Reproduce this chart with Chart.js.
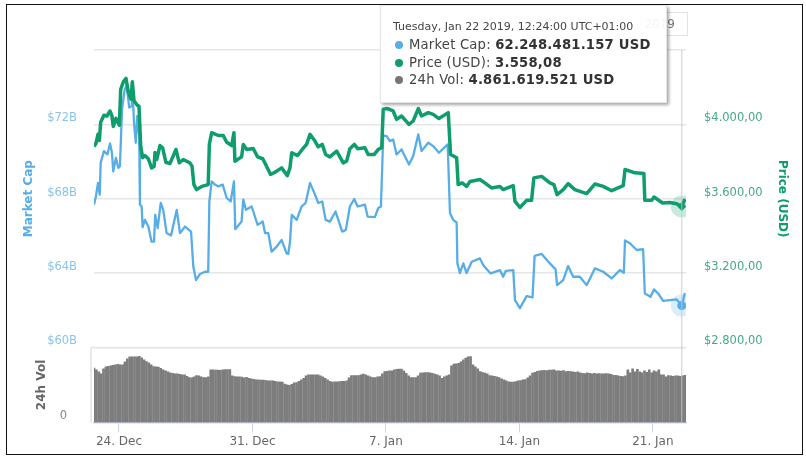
<!DOCTYPE html>
<html><head><meta charset="utf-8">
<style>
html,body{margin:0;padding:0;background:#fff;width:806px;height:459px;overflow:hidden}
body{position:relative;font-family:"DejaVu Sans",sans-serif}
#frame{position:absolute;left:6px;top:4px;width:795px;height:449px;border:1px solid #111;pointer-events:none;z-index:5}
canvas{position:absolute;left:0;top:0}
#range{position:absolute;left:640px;top:12px;width:34px;height:22px;padding-right:12px;border:1px solid #e2e2e2;z-index:1;color:#777;font-size:12px;line-height:22px;text-align:right;box-sizing:content-box}
#tip{position:absolute;left:380px;top:5px;width:285px;height:96px;background:rgba(255,255,255,.93);border:1px solid #e6e6e6;box-shadow:2px 2px 3px rgba(0,0,0,.35);z-index:6;color:#444}
#tip div{position:absolute;left:28px;white-space:nowrap;font-size:13.2px;letter-spacing:.2px}
#tip div b{color:#333}
#tip i{position:absolute;left:-14px;top:4px;width:8px;height:8px;border-radius:50%}
#tip .d{left:12px;top:14px;font-size:11px;letter-spacing:0;color:#444}
</style></head><body>
<canvas id="c" width="806" height="459"></canvas>
<div id="range">2019</div>
<div id="tip">
 <div class="d" id="tDate"></div>
 <div style="top:31px"><i style="background:#5aaee6"></i><span id="t1"></span></div>
 <div style="top:49px"><i style="background:#0f9d6b"></i><span id="t2"></span></div>
 <div style="top:66px"><i style="background:#777"></i><span id="t3"></span></div>
</div>
<div id="frame"></div>
<script src="https://cdn.jsdelivr.net/npm/chart.js@4"></script>
<script>
// days since 24 Dec 2018 00:00
const priceDays=[-1.31,-1.21,-1.10,-1.03,-0.96,-0.79,-0.63,-0.47,-0.37,-0.30,-0.16,0.02,0.09,0.23,0.37,0.49,0.63,0.70,0.79,0.96,1.05,1.14,1.24,1.36,1.54,1.71,1.84,1.89,1.98,2.15,2.29,2.46,2.67,2.99,3.16,3.37,3.72,3.83,3.93,4.07,4.34,4.68,4.74,4.86,5.21,5.47,5.65,5.91,6.03,6.08,6.43,6.52,6.70,7.04,7.27,7.54,7.74,7.95,8.18,8.53,8.83,8.97,9.06,9.37,9.61,9.84,10.02,10.28,10.45,10.66,10.84,11.06,11.42,11.76,11.94,12.11,12.34,12.52,12.90,13.07,13.39,13.60,13.78,13.86,14.09,14.38,14.56,14.82,15.21,15.43,15.70,15.87,16.22,16.48,16.78,17.27,17.39,17.71,17.79,18.00,18.23,18.41,18.93,19.19,19.54,19.98,20.15,20.68,20.77,21.03,21.38,21.64,21.76,22.17,22.60,22.81,22.98,23.30,23.56,23.91,24.53,24.96,25.40,25.84,26.45,26.54,27.06,27.53,27.58,27.94,28.06,28.51,28.89,29.25,29.52,29.68];
const priceUsd=[3881,3897,3946,3913,4011,4049,4045,4072,4045,3989,4032,3995,4189,4229,4247,4174,4135,4229,4126,4103,4097,3883,3820,3832,3815,3766,3773,3849,3811,3886,3874,3796,3789,3865,3793,3811,3793,3775,3676,3649,3666,3676,3892,3955,3940,3940,3904,3886,3955,3802,3825,3892,3865,3870,3825,3815,3775,3730,3742,3766,3724,3767,3847,3832,3865,3892,3946,3910,3879,3892,3838,3825,3856,3793,3802,3869,3892,3869,3874,3838,3838,3865,3874,4081,4085,4072,4027,4045,4000,4018,4085,4045,4063,4054,4031,4063,3838,3820,3676,3685,3666,3693,3703,3685,3658,3666,3649,3670,3585,3553,3591,3591,3712,3720,3685,3676,3622,3649,3681,3649,3627,3679,3666,3643,3670,3757,3739,3735,3591,3591,3609,3577,3580,3573,3558.08,3598];
const capDays=[-1.31,-1.21,-1.10,-1.01,-0.96,-0.79,-0.61,-0.47,-0.37,-0.30,-0.16,-0.04,0.05,0.16,0.30,0.40,0.54,0.67,0.72,0.79,0.88,0.96,1.06,1.10,1.19,1.24,1.36,1.54,1.71,1.84,1.90,2.03,2.19,2.32,2.50,2.73,3.03,3.20,3.46,3.78,3.90,4.04,4.25,4.51,4.68,4.74,4.86,5.03,5.21,5.44,5.65,5.86,6.03,6.10,6.43,6.52,6.66,6.96,7.27,7.54,7.66,7.83,8.01,8.27,8.53,8.79,8.88,8.97,9.06,9.32,9.58,9.79,10.02,10.28,10.45,10.66,10.84,11.06,11.36,11.71,11.90,12.11,12.34,12.52,12.90,13.04,13.42,13.60,13.74,13.86,14.04,14.21,14.38,14.56,14.82,15.21,15.43,15.70,15.87,16.22,16.48,16.78,17.24,17.36,17.53,17.71,17.75,17.88,18.06,18.23,18.50,18.93,19.10,19.49,19.98,20.15,20.29,20.68,20.77,21.03,21.38,21.69,21.80,22.17,22.60,22.90,22.98,23.30,23.56,23.82,24.17,24.53,24.96,25.40,25.84,26.27,26.48,26.54,26.80,27.15,27.49,27.58,27.88,28.06,28.28,28.54,29.25,29.52,29.68];
const marketCapB=[67.68,68.12,68.85,68.22,69.93,70.56,70.38,70.97,70.47,69.47,70.20,69.66,69.75,72.81,73.89,74.07,72.90,72.99,73.62,72.09,71.01,72.45,71.37,67.68,67.58,66.47,66.86,66.50,65.69,65.69,67.13,66.42,67.77,67.40,66.15,66.02,67.40,66.15,66.50,66.23,64.34,63.62,63.95,64.07,64.07,67.85,68.93,68.76,68.66,68.76,68.04,67.85,68.93,66.36,66.77,67.95,67.40,67.58,66.59,66.77,66.15,66.15,65.15,65.42,65.78,65.06,65.03,65.69,67.13,66.86,67.58,67.77,68.85,68.22,67.77,67.85,66.86,66.77,67.31,66.23,66.32,67.58,67.98,67.58,67.68,67.04,67.01,67.50,67.58,71.40,71.37,71.10,71.19,70.38,70.65,69.84,70.29,71.46,70.56,71.01,70.83,70.47,70.92,67.23,66.86,66.72,64.52,64.00,64.52,64.00,64.61,64.79,64.43,63.98,64.16,63.80,64.12,64.16,62.54,62.11,62.76,62.69,64.92,65.03,64.52,64.20,63.35,63.62,64.38,63.80,63.80,63.35,64.25,64.07,63.71,64.16,64.02,65.75,65.60,65.24,65.28,62.90,62.72,63.12,62.90,62.50,62.58,62.248,62.93];
// 24h volume in billions USD, one bar every three hours
const volStartDay=-1.31, volStepDays=0.125;
const volumeB=[5.65,5.47,5.26,5.05,5.57,5.78,5.83,5.89,5.94,5.99,
6.04,5.99,5.99,6.30,6.61,6.82,6.82,6.82,6.82,6.88,
6.72,6.51,6.33,6.20,5.99,5.81,5.78,5.75,5.63,5.47,
5.36,5.26,5.16,5.10,5.05,5.05,5.00,4.95,4.95,4.79,
4.67,4.64,4.74,4.88,4.84,4.74,4.67,4.67,4.74,5.47,
5.47,5.44,5.44,5.42,5.47,5.50,5.50,5.50,4.84,4.77,
4.74,4.74,4.71,4.64,4.69,4.58,4.53,4.48,4.43,4.43,
4.40,4.40,4.38,4.32,4.32,4.32,4.27,4.22,4.22,4.19,
3.98,3.91,3.85,3.96,4.11,4.15,4.27,4.43,4.58,4.84,
4.95,4.95,4.95,4.95,4.95,4.84,4.74,4.60,4.43,4.27,
4.19,4.22,4.22,4.25,4.27,4.27,4.32,4.64,4.88,4.88,
4.88,4.88,4.95,5.02,4.95,4.84,4.74,4.67,4.67,4.74,
4.77,5.05,5.29,5.31,5.36,5.36,5.47,5.52,5.54,5.54,
5.36,5.10,4.84,4.67,4.67,4.67,4.84,5.12,5.16,5.19,
5.19,5.16,5.10,5.02,4.95,4.84,4.60,4.74,4.84,4.95,
5.89,6.06,6.09,6.15,6.30,6.51,6.69,6.82,6.85,5.99,
5.78,5.57,5.29,5.21,5.12,5.05,4.88,4.84,4.79,4.74,
4.67,4.53,4.43,4.32,4.22,4.19,4.19,4.25,4.32,4.35,
4.43,4.46,4.64,4.84,5.12,5.21,5.31,5.36,5.40,5.42,
5.40,5.44,5.44,5.47,5.36,5.36,5.33,5.40,5.29,5.31,
5.29,5.26,5.21,5.26,5.16,5.10,5.08,5.16,5.10,5.05,
5.10,5.05,5.08,5.05,5.05,5.08,5.05,5.00,4.90,4.90,
4.84,4.79,4.77,4.84,5.47,5.16,5.57,5.26,5.52,5.26,
5.16,5.36,5.21,5.47,5.16,5.36,5.26,5.47,4.95,4.95,
4.74,4.88,4.84,4.79,4.84,4.84,4.79,4.86,4.90];
const hoverDay=29.52, hoverCap=62.248, hoverPrice=3558.08;
const weekTickDays=[0,7,14,21,28];
const weekTickLabels=["24. Dec","31. Dec","7. Jan","14. Jan","21. Jan"];
const tooltipDate="Tuesday, Jan 22 2019, 12:24:00 UTC+01:00";
const tooltipCap="62.248.481.157 USD", tooltipPrice="3.558,08", tooltipVol="4.861.619.521 USD";

const BLUE="#57ade6", GREEN="#0f9d6b";
const FONT="'DejaVu Sans',sans-serif";
const zip=(xs,ys)=>xs.map((x,i)=>({x,y:ys[i]}));
function priceLabel(v){return "$"+v.toLocaleString("de-DE",{minimumFractionDigits:2,maximumFractionDigits:2});}

const decor={id:"decor",
 beforeDatasetsDraw(ch){
  const a=ch.chartArea,g=ch.ctx,vy=ch.scales.yVol;
  g.save();g.strokeStyle="#e2e2e6";g.lineWidth=1.5;
  g.beginPath();g.moveTo(a.left-3,vy.top);g.lineTo(a.left-3,vy.bottom);g.stroke();
  g.strokeStyle="#e6e6e6";g.beginPath();g.moveTo(a.left-3,vy.top);g.lineTo(a.right,vy.top);g.stroke();g.restore();
 },
 afterDatasetsDraw(ch){
  const g=ch.ctx,a=ch.chartArea,px=ch.scales.x.getPixelForValue(hoverDay);
  g.save();g.strokeStyle="rgba(190,196,208,.85)";g.lineWidth=1;
  g.beginPath();g.moveTo(px,a.top);g.lineTo(px,a.bottom);g.stroke();g.restore();
 }};

new Chart(document.getElementById("c"),{
 data:{datasets:[
  {type:"bar",label:"24h Vol",xAxisID:"x",yAxisID:"yVol",data:volumeB.map((v,i)=>({x:volStartDay+i*volStepDays,y:v})),backgroundColor:"#7d7d7d",barThickness:2,order:5},
  {type:"line",label:"Market Cap",xAxisID:"x",yAxisID:"yCap",data:zip(capDays,marketCapB),borderColor:BLUE,borderWidth:2.3,borderJoinStyle:"round",pointRadius:0,tension:0,order:3},
  {type:"line",label:"Price (USD)",xAxisID:"x",yAxisID:"yPrice",data:zip(priceDays,priceUsd),borderColor:GREEN,borderWidth:3.5,borderJoinStyle:"round",pointRadius:0,tension:0,order:2},
  {type:"line",label:"cap marker",xAxisID:"x",yAxisID:"yCap",showLine:false,data:[{x:hoverDay,y:hoverCap},{x:hoverDay,y:hoverCap}],pointRadius:[11,4.5],pointBorderWidth:0,pointBackgroundColor:["rgba(87,173,230,.22)",BLUE],order:1},
  {type:"line",label:"price marker",xAxisID:"x",yAxisID:"yPrice",showLine:false,data:[{x:hoverDay,y:hoverPrice},{x:hoverDay,y:hoverPrice}],pointStyle:["circle","rectRot"],pointRadius:[11,4.5],pointBorderWidth:0,pointBackgroundColor:["rgba(15,157,107,.22)",GREEN],order:1}
 ]},
 options:{responsive:false,animation:false,events:[],
  layout:{padding:{top:50,left:0,right:0,bottom:0}},
  plugins:{legend:{display:false},tooltip:{enabled:false}},
  scales:{
   x:{type:"linear",position:"bottom",min:-1.31,max:29.74,offset:false,
    afterBuildTicks(s){s.ticks=weekTickDays.map(v=>({value:v}));},
    afterFit(s){s.height=36.5;},
    grid:{offset:false,drawOnChartArea:false,drawTicks:true,tickLength:10,color:"#ccd6eb",lineWidth:1},
    border:{color:"#ccd6eb",width:1.5},
    ticks:{padding:2,maxRotation:0,autoSkip:false,color:"#666",font:{family:FONT,size:12},
     callback(v){const i=weekTickDays.indexOf(v);return i<0?"":weekTickLabels[i];}}},
   yVol:{type:"linear",position:"left",stack:"L",stackWeight:75,min:0,max:7.8,
    afterFit(s){s.width=94;},
    border:{display:false},
    grid:{display:false},
    title:{display:true,text:"24h Vol",color:"#666",font:{family:FONT,size:12,weight:"bold"},padding:{top:35,bottom:0}},
    ticks:{stepSize:10,padding:19,labelOffset:-6,color:"#888",font:{family:FONT,size:11.5},
     callback(v){return v===0?"0":"";}}},
   yCap:{type:"linear",position:"left",stack:"L",stackWeight:297,min:60,max:76,
    afterFit(s){s.width=94;},
    border:{display:false},
    grid:{color:"#e6e6e6",lineWidth:1.5,drawTicks:false},
    title:{display:true,text:"Market Cap",color:BLUE,font:{family:FONT,size:12,weight:"bold"},padding:{top:22,bottom:0}},
    ticks:{stepSize:4,padding:17,labelOffset:-6,color:"#8cc3e8",font:{family:FONT,size:11.5},
     callback(v){return v===76?"":"$"+v+"B";}}},
   yPrice:{type:"linear",position:"right",stack:"R",stackWeight:297,min:2800,max:4400,
    afterFit(s){s.width=120;},
    border:{display:false},
    grid:{drawOnChartArea:false,drawTicks:false},
    title:{display:true,text:"Price (USD)",color:GREEN,font:{family:FONT,size:12,weight:"bold"},padding:{top:17,bottom:0}},
    ticks:{stepSize:400,padding:18,labelOffset:-6,color:"#45a983",font:{family:FONT,size:11.5},
     callback(v){return v===4400?"":priceLabel(v);}}},
   yBlank:{type:"linear",position:"right",stack:"R",stackWeight:75,min:0,max:1,display:true,
    afterFit(s){s.width=120;},
    border:{display:false},grid:{display:false},ticks:{display:false}}
  }},
 plugins:[decor]
});
document.getElementById("tDate").textContent=tooltipDate;
document.getElementById("t1").innerHTML='Market Cap: <b>'+tooltipCap+'</b>';
document.getElementById("t2").innerHTML='Price (USD): <b>'+tooltipPrice+'</b>';
document.getElementById("t3").innerHTML='24h Vol: <b>'+tooltipVol+'</b>';
</script>
</body></html>
